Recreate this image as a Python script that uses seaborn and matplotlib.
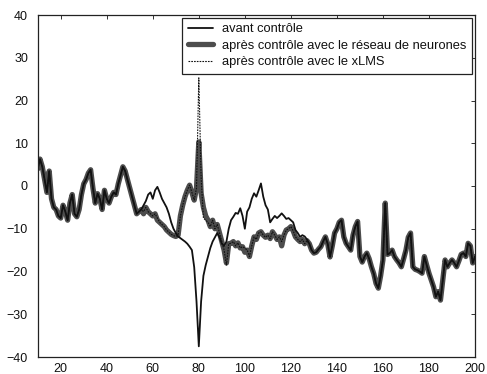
import numpy as np
import pandas as pd
import matplotlib
matplotlib.use("Agg")
import matplotlib.pyplot as plt
import seaborn as sns

# ---- data ----
x_start, x_end = 10, 200

# shared part x = 10..55
head = [4.0, 6.3, 4.5, 1.5, -1.5, 3.5, -3.0, -5.0, -5.5, -7.0,
        -7.5, -4.5, -6.0, -8.0, -4.0, -2.0, -6.5, -7.2, -5.5, -2.0,
        0.5, 1.5, 3.0, 3.8, -0.5, -4.0, -1.8, -3.0, -5.5, -1.0,
        -3.0, -4.0, -2.5, -1.5, -2.0, 0.5, 2.5, 4.5, 3.5, 1.5,
        -0.5, -2.5, -4.5, -6.5, -6.0, -5.5]

# x = 56..128
avant_mid = [-4.5, -3.5, -2.0, -1.5, -3.0, -1.0, -0.2, -1.5, -3.0, -4.0,
             -5.0, -6.5, -8.5, -10.0, -11.0, -11.8, -12.2, -12.6, -13.0, -13.5,
             -14.2, -15.0, -19.0, -27.0, -37.5, -27.0, -21.0, -18.5, -16.5, -14.5,
             -13.0, -12.0, -11.0, -12.0, -13.5, -14.0, -13.0, -10.0, -8.0, -7.2,
             -6.3, -6.5, -5.2, -7.0, -10.0, -6.0, -5.0, -3.0, -1.7, -2.5,
             -1.0, 0.6, -2.5, -4.5, -5.5, -8.5, -7.7, -7.0, -7.5, -7.0,
             -6.4, -7.0, -7.7, -7.5, -8.0, -8.5, -10.3, -11.0, -11.9, -11.5,
             -11.8, -12.5, -13.5]

neural_mid = [-6.5, -5.0, -6.0, -6.5, -7.0, -6.5, -8.0, -8.5, -9.0, -9.5,
              -10.3, -10.8, -11.3, -11.6, -11.8, -11.5, -7.0, -4.5, -2.5, -1.0,
              0.2, -1.5, -3.3, -0.5, 10.3, -1.7, -5.0, -7.0, -8.0, -9.5,
              -8.0, -10.0, -9.0, -11.0, -13.0, -15.0, -18.0, -13.5, -13.4, -13.0,
              -14.0, -13.3, -14.5, -14.2, -15.5, -15.0, -16.5, -14.0, -11.9, -12.5,
              -11.0, -10.7, -11.5, -12.0, -11.5, -12.3, -10.7, -11.5, -12.5, -11.9,
              -14.0, -11.5, -10.3, -10.0, -9.5, -10.5, -11.9, -12.5, -13.0, -12.5,
              -13.5, -12.8, -13.5]

xlms_mid = [-6.0, -5.0, -6.0, -6.5, -7.0, -6.5, -7.5, -8.5, -9.0, -9.5,
            -10.3, -10.8, -11.3, -11.6, -11.8, -11.5, -7.0, -4.5, -2.5, -1.0,
            0.2, -1.5, -3.3, -0.5, 25.3, 2.0, -7.5, -8.0, -8.5, -9.5,
            -8.0, -10.0, -9.0, -11.0, -13.0, -15.0, -18.5, -13.5, -13.4, -13.0,
            -14.0, -13.3, -14.5, -14.2, -14.5, -15.0, -16.5, -14.0, -11.9, -12.5,
            -11.0, -10.7, -11.5, -12.0, -11.5, -12.3, -10.7, -11.5, -12.5, -11.9,
            -13.0, -11.5, -10.3, -10.0, -9.5, -10.5, -11.9, -12.5, -13.0, -12.5,
            -13.5, -12.8, -13.5]

# shared part x = 129..200
tail = [-15.0, -15.7, -15.5, -14.8, -14.2, -13.0, -11.9, -13.5, -16.6, -14.0,
        -11.0, -10.0, -8.5, -8.0, -11.9, -13.4, -14.2, -15.0, -11.5, -9.5,
        -8.3, -16.5, -17.8, -16.5, -15.7, -17.0, -18.9, -20.5, -22.8, -23.9,
        -21.0, -17.3, -4.0, -16.0, -15.7, -15.0, -16.5, -17.3, -18.0, -18.9,
        -17.0, -15.0, -12.0, -11.0, -18.9, -19.5, -19.7, -20.0, -20.4, -16.5,
        -18.5, -20.4, -22.0, -23.6, -25.9, -24.7, -26.7, -22.0, -17.3, -18.9,
        -18.0, -17.3, -18.0, -18.9, -17.5, -16.0, -15.7, -16.5, -13.4, -14.0,
        -18.0, -16.5]

labels = ["avant contrôle",
          "après contrôle avec le réseau de neurones",
          "après contrôle avec le xLMS"]
x_ticks = [20, 40, 60, 80, 100, 120, 140, 160, 180, 200]
y_ticks = [-40, -30, -20, -10, 0, 10, 20, 30, 40]

x = np.arange(x_start, x_end + 1)
avant = head + avant_mid + tail
neural = head + neural_mid + tail
xlms = head + xlms_mid + tail

df = pd.DataFrame({"x": x, "avant": avant, "neural": neural, "xlms": xlms})

# ---- plot ----
sns.set_style("white")
plt.rcParams["font.family"] = ["Liberation Sans", "DejaVu Sans"]

fig = plt.figure(figsize=(4.87, 3.74), dpi=100)
ax = fig.add_axes([37.7 / 487, 1 - 357 / 374, (475 - 37.7) / 487, 342 / 374])

sns.lineplot(data=df, x="x", y="neural", ax=ax, color="#4d4d4d", linewidth=3.8,
             estimator=None, sort=False, label=labels[1])
sns.lineplot(data=df, x="x", y="avant", ax=ax, color="#111111", linewidth=1.3,
             estimator=None, sort=False, label=labels[0])
sns.lineplot(data=df, x="x", y="xlms", ax=ax, color="#111111", linewidth=0.8,
             linestyle=(0, (1.5, 1)), estimator=None, sort=False, label=labels[2])

ax.set_xlim(10, 200)
ax.set_ylim(-40, 40)
ax.set_xticks(x_ticks)
ax.set_yticks(y_ticks)
ax.set_xlabel("")
ax.set_ylabel("")
ax.tick_params(direction="in", length=3, width=0.6, top=True, right=True,
               labelsize=9, colors="#111111")
ax.tick_params(axis="y", pad=7)
ax.tick_params(axis="x", pad=4)
for s in ax.spines.values():
    s.set_color("#222222")
    s.set_linewidth(0.9)

handles, labs = ax.get_legend_handles_labels()
order = [labs.index(l) for l in labels]
leg = ax.legend([handles[i] for i in order], [labs[i] for i in order],
                loc="upper right", bbox_to_anchor=(0.993, 0.991), borderaxespad=0,
                fontsize=9.3, frameon=True, fancybox=False, edgecolor="#222222",
                framealpha=1, handlelength=2.0, handletextpad=0.7,
                labelspacing=0.35, borderpad=0.4)
leg.get_frame().set_linewidth(0.9)
for t in leg.get_texts():
    t.set_color("#111111")

fig.savefig("out.png", dpi=100)
